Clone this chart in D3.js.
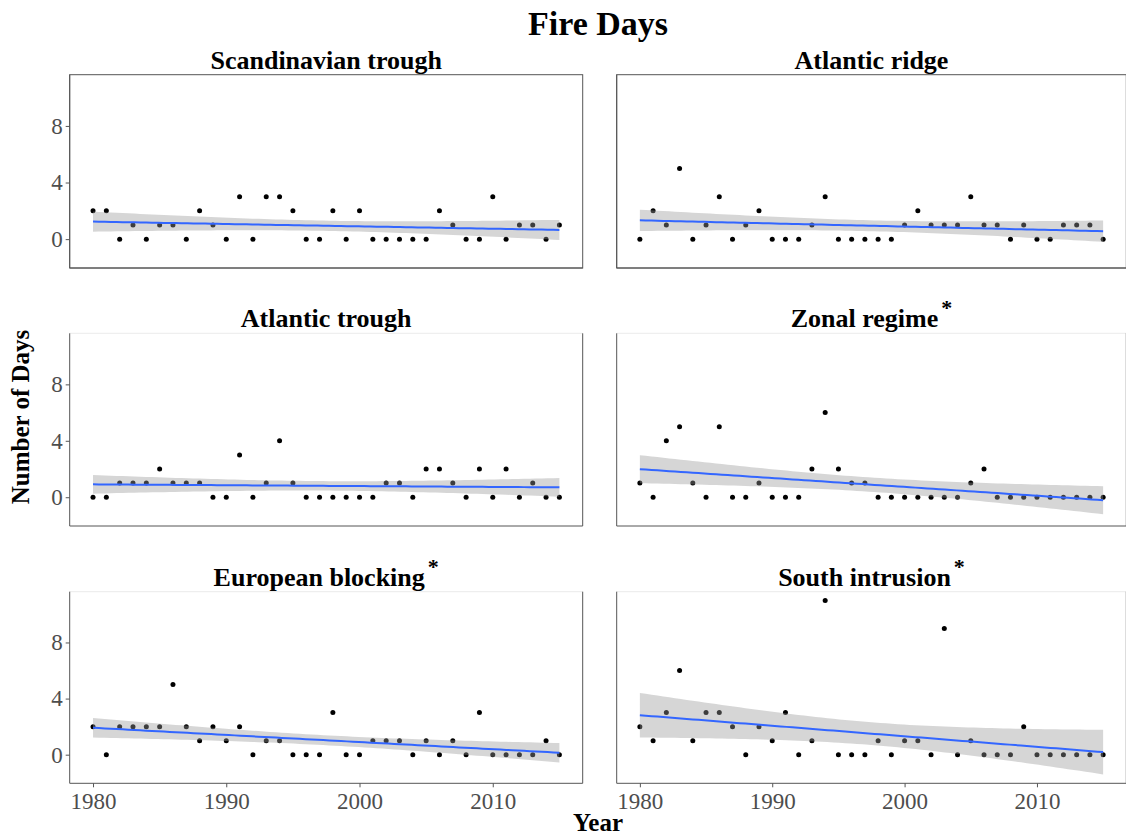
<!DOCTYPE html>
<html>
<head>
<meta charset="utf-8">
<script src="https://cdn.jsdelivr.net/npm/d3@7"></script>
<style>
  html, body { margin: 0; padding: 0; background: #fff; }
  svg { display: block; }
</style>
</head>
<body>
<svg id="chart" width="1126" height="835"></svg>
<script>
// ---- data ----
const years = d3.range(1980, 2016);
const panelTitles = ["Scandinavian trough", "Atlantic ridge", "Atlantic trough", "Zonal regime", "European blocking", "South intrusion"];
const significant = [false, false, false, true, true, true];
const scandinavianTrough = [2,2,0,1,0,1,1,0,2,1,0,3,0,3,3,2,0,0,2,0,2,0,0,0,0,0,2,1,0,0,3,0,1,1,0,1];
const atlanticRidge      = [0,2,1,5,0,1,3,0,1,2,0,0,0,1,3,0,0,0,0,0,1,2,1,1,1,3,1,1,0,1,0,0,1,1,1,0];
const atlanticTrough     = [0,0,1,1,1,2,1,1,1,0,0,3,0,1,4,1,0,0,0,0,0,0,1,1,0,2,2,1,0,2,0,2,0,1,0,0];
const zonalRegime        = [1,0,4,5,1,0,5,0,0,1,0,0,0,2,6,2,1,1,0,0,0,0,0,0,0,1,2,0,0,0,0,0,0,0,0,0];
const europeanBlocking   = [2,0,2,2,2,2,5,2,1,2,1,2,0,1,1,0,0,0,3,0,0,1,1,1,0,1,0,1,0,3,0,0,0,0,1,0];
const southIntrusion     = [2,1,3,6,1,3,3,2,0,2,1,3,0,1,11,0,0,0,1,0,1,1,0,9,0,1,0,0,0,2,0,0,0,0,0,0];
const seriesList = [scandinavianTrough, atlanticRidge, atlanticTrough, zonalRegime, europeanBlocking, southIntrusion];
const yTicks = [0, 4, 8];
const xTicks = [1980, 1990, 2000, 2010];
const mainTitle = "Fire Days";
const xLabel = "Year";
const yLabel = "Number of Days";

// ---- layout ----
const svg = d3.select("#chart");
const colX = [[69.7, 582.7], [616.7, 1126.3]];
const rowY = [[74.7, 268], [333.3, 526], [591.7, 783.3]];
const serif = "'Liberation Serif', 'Times New Roman', serif";
const axisCol = "#555";
const tickTextCol = "#4d4d4d";

svg.append("text")
  .attr("x", 598).attr("y", 35)
  .attr("text-anchor", "middle")
  .attr("font-family", serif).attr("font-weight", "bold").attr("font-size", 34)
  .text(mainTitle);

svg.append("text")
  .attr("x", 598).attr("y", 831)
  .attr("text-anchor", "middle")
  .attr("font-family", serif).attr("font-weight", "bold").attr("font-size", 25)
  .text(xLabel);

svg.append("text")
  .attr("transform", "translate(29,417) rotate(-90)")
  .attr("text-anchor", "middle")
  .attr("font-family", serif).attr("font-weight", "bold").attr("font-size", 25)
  .text(yLabel);

// linear model with 95% confidence band
function lmFit(xs, ys) {
  const n = xs.length;
  const mx = d3.mean(xs), my = d3.mean(ys);
  let sxx = 0, sxy = 0;
  for (let i = 0; i < n; i++) { sxx += (xs[i]-mx)**2; sxy += (xs[i]-mx)*(ys[i]-my); }
  const b = sxy / sxx, a = my - b*mx;
  let sse = 0;
  for (let i = 0; i < n; i++) sse += (ys[i] - a - b*xs[i])**2;
  const s = Math.sqrt(sse/(n-2));
  const t = 2.0322; // qt(0.975, 34)
  const grid = d3.range(80).map(i => xs[0] + (xs[n-1]-xs[0]) * i / 79);
  return grid.map(x => {
    const fit = a + b*x;
    const se = s * Math.sqrt(1/n + (x-mx)**2/sxx);
    return {x, fit, lo: fit - t*se, hi: fit + t*se};
  });
}

seriesList.forEach((vals, i) => {
  const col = i % 2, row = Math.floor(i / 2);
  const [x0, x1] = colX[col], [y0, y1] = rowY[row];
  const x = d3.scaleLinear().domain([1978.25, 2016.75]).range([x0, x1]);
  const y = d3.scaleLinear().domain([-2.04, 11.62]).range([y1, y0]);
  const g = svg.append("g");

  // border
  if (row === 0) {
    g.append("rect").attr("x", x0).attr("y", y0).attr("width", x1-x0).attr("height", y1-y0)
      .attr("fill", "none").attr("stroke", axisCol).attr("stroke-width", 1);
  } else {
    g.append("line").attr("x1", x0).attr("x2", x1).attr("y1", y0).attr("y2", y0)
      .attr("stroke", "#ebebeb").attr("stroke-width", 1);
    g.append("line").attr("x1", x1).attr("x2", x1).attr("y1", y0).attr("y2", y1)
      .attr("stroke", axisCol).attr("stroke-width", 1);
  }

  // points (drawn under ribbon like ggplot)
  g.selectAll("circle").data(vals).join("circle")
    .attr("cx", (d, k) => x(years[k])).attr("cy", d => y(d))
    .attr("r", 2.5).attr("fill", "#000");

  const fit = lmFit(years, vals);
  g.append("path").datum(fit)
    .attr("d", d3.area().x(d => x(d.x)).y0(d => y(d.lo)).y1(d => y(d.hi)))
    .attr("fill", "#999999").attr("fill-opacity", 0.4);
  g.append("path").datum(fit)
    .attr("d", d3.line().x(d => x(d.x)).y(d => y(d.fit)))
    .attr("fill", "none").attr("stroke", "#3366FF").attr("stroke-width", 2);

  // y axis
  const ya = g.append("g").attr("transform", `translate(${x0},0)`)
    .call(d3.axisLeft(y).tickValues(yTicks).tickSize(col === 0 ? 4 : 0).tickPadding(3).tickFormat(d3.format("d")));
  ya.select(".domain").attr("stroke", axisCol).attr("d", `M0,${y0}V${y1}`);
  ya.selectAll(".tick line").attr("stroke", axisCol);
  ya.selectAll(".tick text").attr("font-family", serif).attr("font-size", 23).attr("fill", tickTextCol)
    .style("display", col === 0 ? null : "none");

  // x axis
  const xa = g.append("g").attr("transform", `translate(0,${y1})`)
    .call(d3.axisBottom(x).tickValues(xTicks).tickSize(row === 2 ? 4 : 0).tickPadding(5).tickFormat(d3.format("d")));
  xa.select(".domain").attr("stroke", axisCol).attr("d", `M${x0},0H${x1}`);
  xa.selectAll(".tick line").attr("stroke", axisCol);
  xa.selectAll(".tick text").attr("font-family", serif).attr("font-size", 23).attr("fill", tickTextCol)
    .style("display", row === 2 ? null : "none");

  // title
  const t = svg.append("text")
    .attr("x", (x0 + x1) / 2).attr("y", y0 - 6)
    .attr("text-anchor", "middle")
    .attr("font-family", serif).attr("font-weight", "bold").attr("font-size", 26);
  t.append("tspan").text(panelTitles[i]);
  if (significant[i]) {
    t.append("tspan").attr("dy", -12).attr("dx", 3).attr("font-size", 22).text("*");
  }
});
</script>
</body>
</html>
